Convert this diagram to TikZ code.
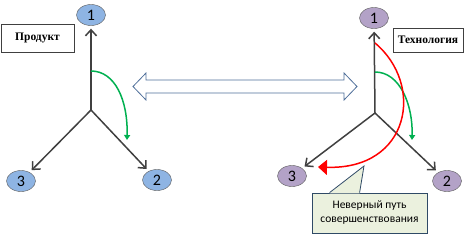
\documentclass[tikz,border=0pt]{standalone}
\usepackage{fontspec}
\setmainfont{Liberation Serif}
\newfontfamily\calibri{Carlito}
\usetikzlibrary{arrows.meta,positioning,shapes.geometric,calc}
\definecolor{axisgray}{HTML}{404040}
\definecolor{numblue}{HTML}{8EB4E3}
\definecolor{numviolet}{HTML}{B3A2C7}
\definecolor{turngreen}{HTML}{00B050}
\definecolor{linkblue}{HTML}{4F6F9A}
\definecolor{notefill}{HTML}{EBF1DE}
\definecolor{noteline}{HTML}{2F4A66}

\begin{document}
\begin{tikzpicture}[x=1pt,y=-1pt,
num/.style={draw=black!65,ellipse,fill=#1,inner sep=0pt,minimum width=29pt,minimum height=21pt,font=\calibri\fontsize{16}{16}\selectfont},
tag/.style={draw=black!75,fill=white,inner sep=0pt,font=\bfseries\fontsize{11.5}{12}\selectfont},
axis/.style={-{Straight Barb[length=6pt,width=11pt]},line width=1.5pt,draw=axisgray,shorten >=3pt},
turn/.style={-{Triangle[length=5pt,width=6pt]},line width=1.5pt,draw=turngreen},
wrong/.style={-{Triangle[length=9pt,width=15pt]},line width=1.5pt,draw=red},
note/.style={draw=noteline,fill=notefill,line width=0.8pt,align=center,minimum width=115pt,minimum height=40pt,inner sep=2pt,font=\calibri\fontsize{11.5}{14}\selectfont}]
\useasboundingbox (0,0) rectangle (471,236);
% product
\coordinate (pc) at (91,110);
\node[num=numblue] (p1) at (91,15) {1};
\node[num=numblue] (p2) at (157,180) {2};
\node[num=numblue] (p3) at (21,181) {3};
\node[tag,minimum width=73pt,minimum height=28pt] (prod) at (37.5,38) {Продукт};
\draw[axis] (pc)--(p1);\draw[axis] (pc)--(p2);\draw[axis] (pc)--(p3);
\coordinate (pa) at (91,71);\coordinate (pb) at (127,140);
\draw[turn] (pa) .. controls (115,71) and (128,100) .. (pb);
% technology
\coordinate (tc) at (375,113);
\node[num=numviolet] (t1) at (374,18) {1};
\node[num=numviolet] (t2) at (447,181) {2};
\node[num=numviolet] (t3) at (292,176) {3};
\node[tag,minimum width=70pt,minimum height=24pt] (tech) at (428,40) {Технология};
\draw[axis] (tc)--(t1);\draw[axis] (tc)--(t2);\draw[axis] (tc)--(t3);
\coordinate (ta) at (375,72);\coordinate (tb) at (412,140);
\draw[turn] (ta) .. controls (400,72) and (413,105) .. (tb);
\coordinate (ra) at (375,43);\coordinate (rb) at (318,167);
\draw[wrong] (ra) .. controls (425,85) and (410,170) .. (rb);
% double arrow between the two
\draw[linkblue,fill=white,line width=0.8pt,line join=miter]
  (133,86.5) -- (146,73) -- (146,80) -- (344,80) -- (344,73) -- (357,86.5)
  -- (344,100) -- (344,93) -- (146,93) -- (146,100) -- cycle;
% note
\node[note] (bad) at (369.5,213) {Неверный путь\\совершенствования};
\coordinate (badtip) at (364,166);
\fill[notefill] ($(bad.north west)+(18,0.8)$) -- (badtip) -- ($(bad.north west)+(48,0.8)$) -- cycle;
\draw[noteline,line width=0.8pt,line join=miter] ($(bad.north west)+(18,0)$) -- (badtip) -- ($(bad.north west)+(48,0)$);
\end{tikzpicture}
\end{document}
